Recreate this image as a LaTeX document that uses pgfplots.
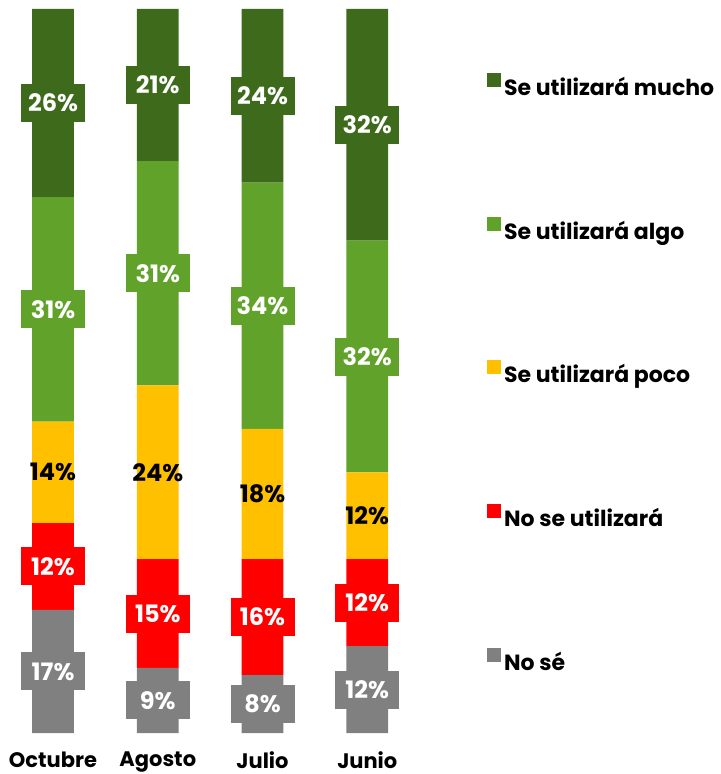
\documentclass[border=0pt]{standalone}
\usepackage{pgfplots}
\pgfplotsset{compat=1.18}
\usepackage{pgfplotstable}
\usepackage{fontspec}
\setmainfont{Poppins}
\definecolor{mucho}{RGB}{61,106,27}
\definecolor{algo}{RGB}{96,162,42}
\definecolor{poco}{RGB}{255,192,0}
\definecolor{nouso}{RGB}{255,0,0}
\definecolor{nose}{RGB}{128,128,128}

% x: 0 Octubre, 1 Agosto, 2 Julio, 3 Junio
\pgfplotstableread{
x nose no poco algo mucho
0 17 12 14 31 26
1  9 15 24 31 21
2  8 16 18 34 24
3 12 12 12 32 32
}\datos

\begin{document}
\begin{tikzpicture}
\begin{axis}[
    name=ax,
    scale only axis,
    width=209.5pt, height=362pt,
    ybar stacked, bar width=20.85pt,
    xmin=-0.5, xmax=3.5, ymin=0, ymax=100,
    xtick={0,1,2,3},
    xticklabels={Octubre,Agosto,Julio,Junio},
    ytick=\empty,
    axis line style={draw=none},
    tick style={draw=none},
    clip=false,
    xticklabel style={font=\fontsize{10.5}{12}\selectfont\bfseries, yshift=-6pt},
    visualization depends on=rawy\as\rawy,
    nodes near coords={\pgfmathprintnumber[assume math mode=true, fixed, precision=0]{\rawy}\%},
    every node near coord/.append style={anchor=center,
        font=\fontsize{12}{14}\selectfont\bfseries, inner sep=0pt,
        minimum width=32pt, minimum height=19pt, text=white},
    reverse legend,
    legend cell align=left,
    legend style={at={(1.16,0.912)}, anchor=north west, draw=none, fill=none,
        inner sep=0pt, row sep=57.5pt, nodes={inner sep=1.5pt},
        font=\fontsize{11}{13}\selectfont\bfseries},
    legend image code/.code={\fill[#1,draw=none] (0pt,0.5pt) rectangle (7pt,7.5pt);},
]
\addplot[fill=nose, draw=none, every node near coord/.append style={fill=nose}]
    table[x=x, y=nose] {\datos};
\addplot[fill=nouso, draw=none, every node near coord/.append style={fill=nouso}]
    table[x=x, y=no] {\datos};
\addplot[fill=poco, draw=none, every node near coord/.append style={text=black}]
    table[x=x, y=poco] {\datos};
\addplot[fill=algo, draw=none, every node near coord/.append style={fill=algo}]
    table[x=x, y=algo] {\datos};
\addplot[fill=mucho, draw=none, every node near coord/.append style={fill=mucho}]
    table[x=x, y=mucho] {\datos};
\legend{No sé, No se utilizará, Se utilizará poco, Se utilizará algo, Se utilizará mucho}
\end{axis}
\pgfresetboundingbox
\path (ax.south west) ++(-0.325pt,-20.5pt) rectangle ++(360pt,387pt);
\end{tikzpicture}
\end{document}
